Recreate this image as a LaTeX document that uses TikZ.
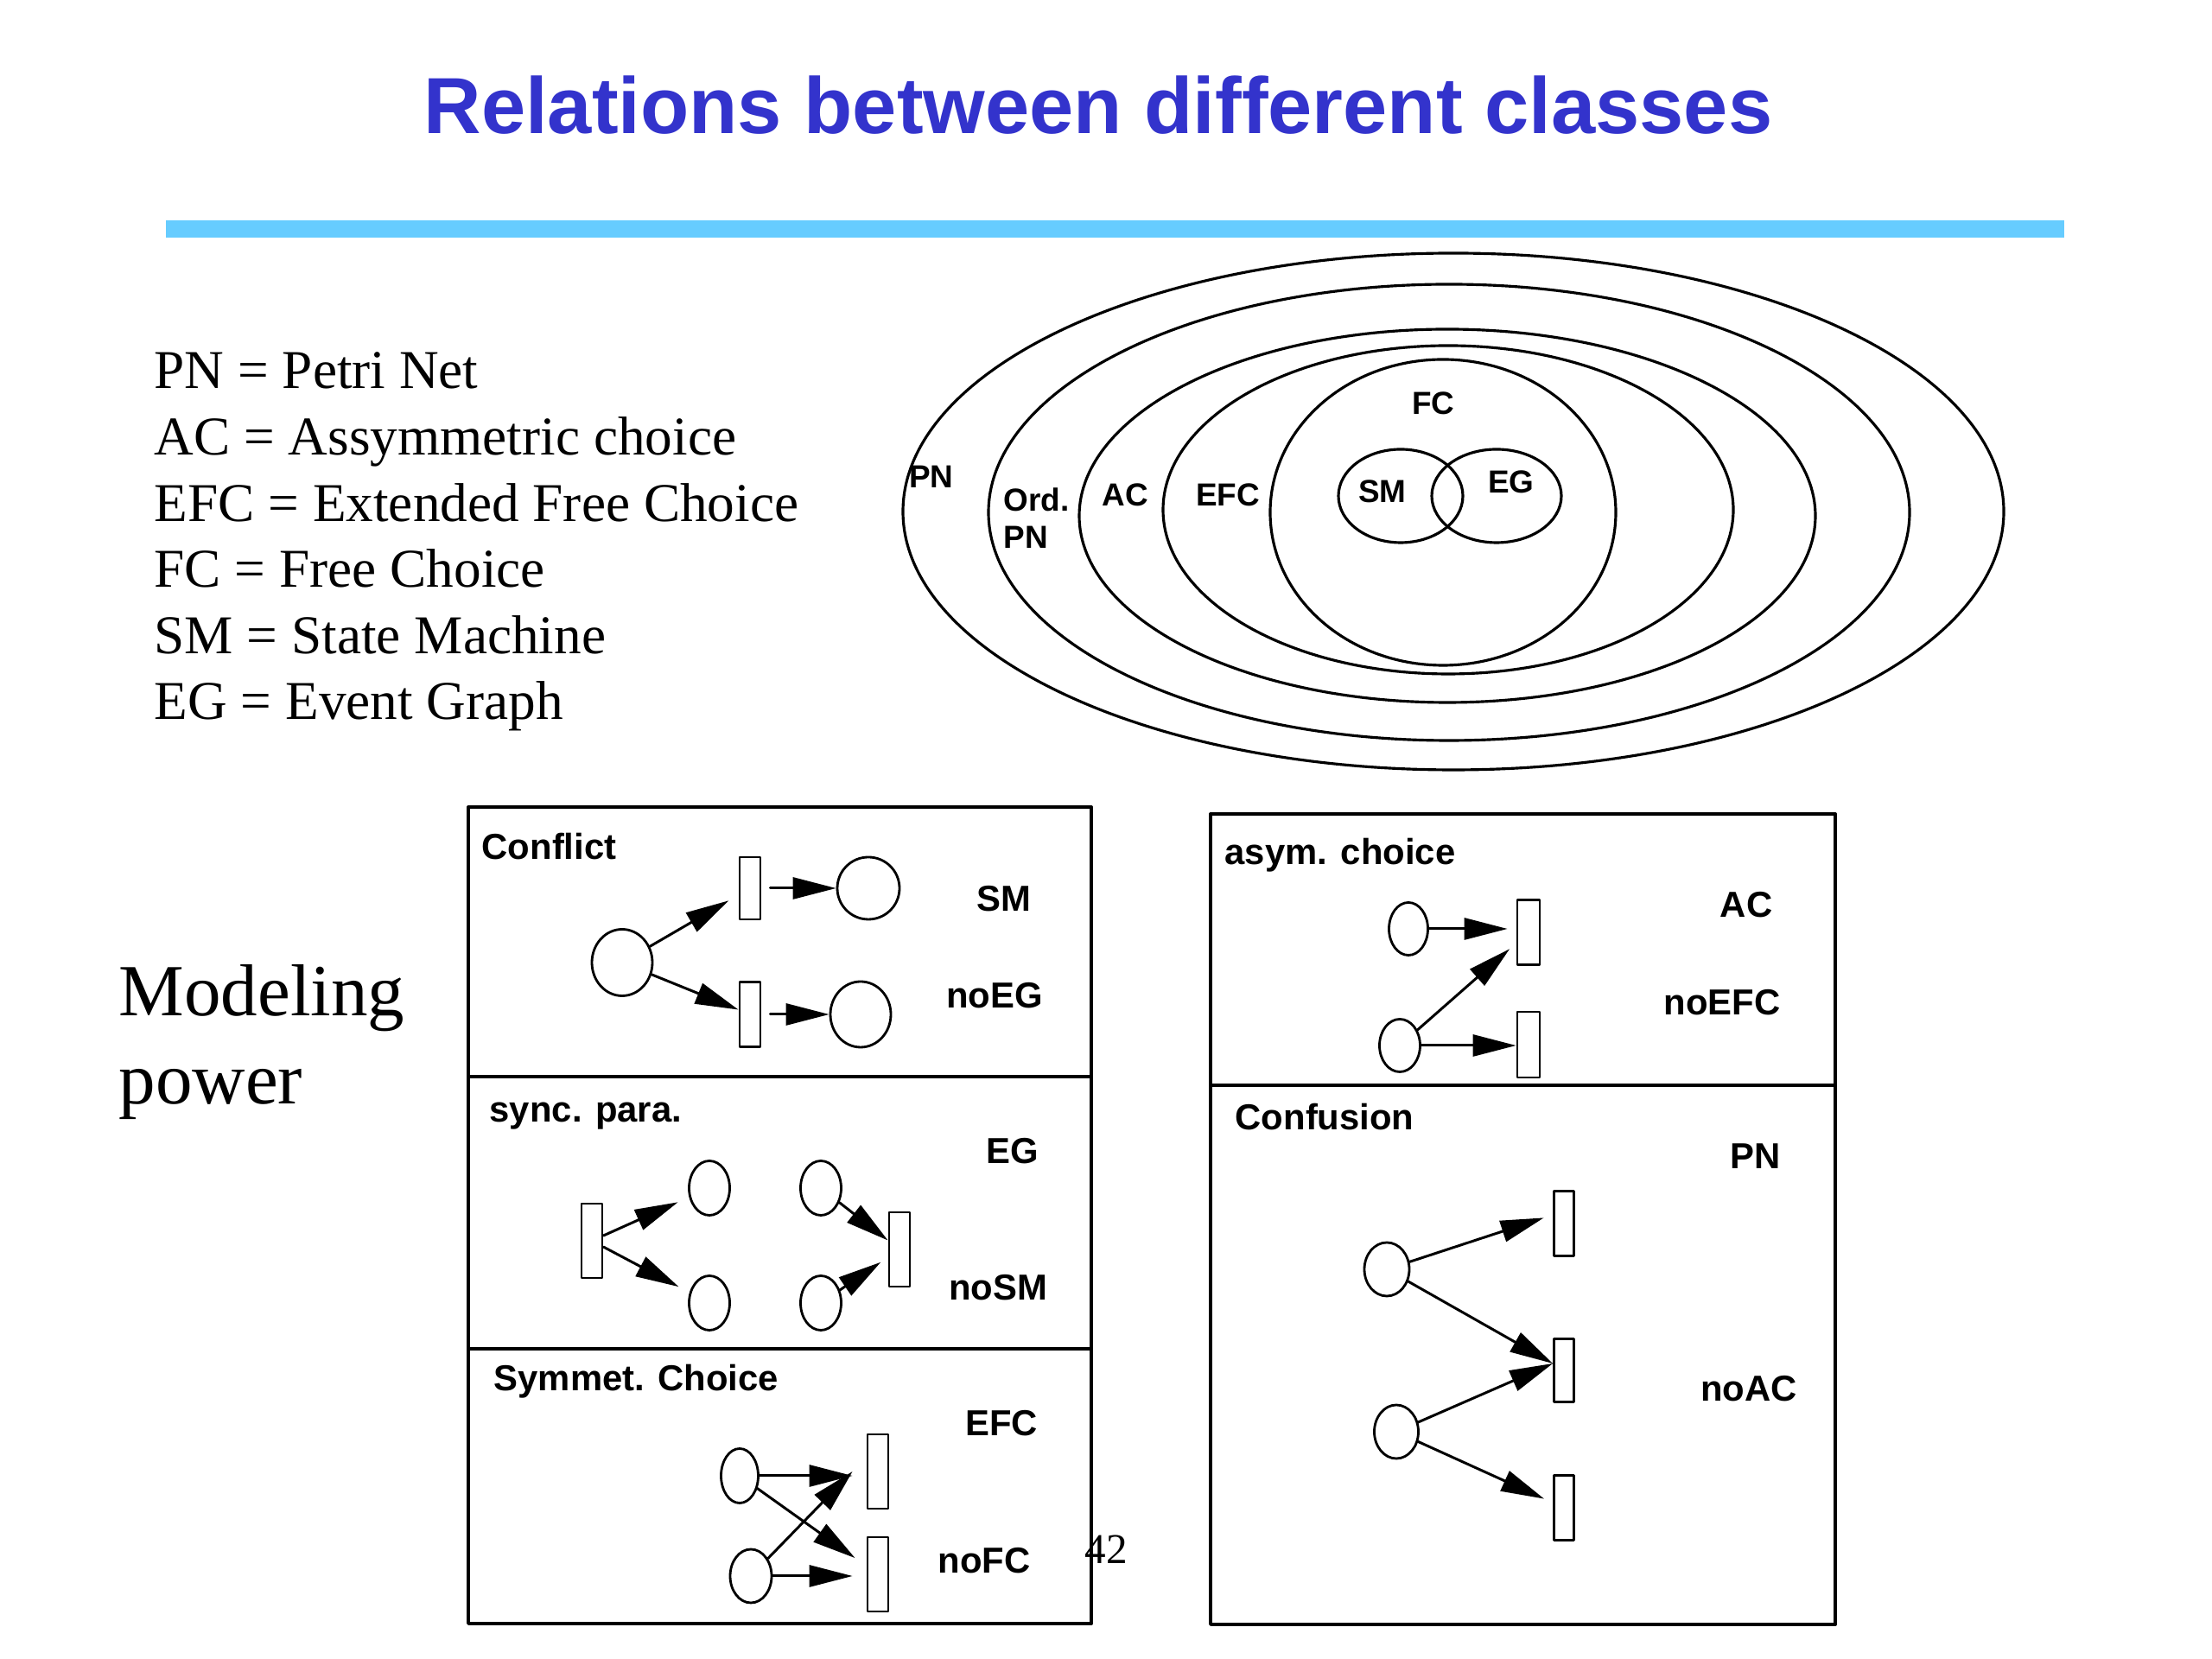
\documentclass[tikz,border=0pt]{standalone}
\usepackage{fontspec}
\setmainfont{Liberation Serif}
\setsansfont{Liberation Sans}
\usetikzlibrary{arrows.meta,shapes.geometric}
\definecolor{titleblue}{RGB}{51,51,204}
\definecolor{ruleblue}{RGB}{102,204,255}

\begin{document}
\begin{tikzpicture}[x=1cm, y=1cm, line cap=round, line join=round, >={Triangle[length=0.5cm, width=0.25cm]},
    place/.style={draw, ellipse, line width=0.8pt, inner sep=0pt, minimum width=0.47cm, minimum height=0.62cm},
    trans/.style={draw, rectangle, line width=0.8pt, inner sep=0pt, minimum width=0.24cm, minimum height=0.86cm},
    flow/.style={->, line width=0.85pt},
    venn/.style={line width=0.9pt},
    panel/.style={line width=1.1pt},
    tag/.style={font=\sffamily\bfseries\fontsize{11.9}{14}\selectfont, anchor=base west, inner sep=0pt},
    cls/.style={font=\sffamily\bfseries\fontsize{11.9}{14}\selectfont, inner sep=0pt},
    vlabel/.style={font=\sffamily\bfseries\fontsize{10.5}{12.2}\selectfont, inner sep=0pt}]
    \useasboundingbox (0,0) rectangle (25.6,19.2);
    \fill[white] (0,0) rectangle (25.6,19.2);

    % title and rule
    \node[font=\sffamily\bfseries\fontsize{26.2}{30}\selectfont, text=titleblue, anchor=base, inner sep=0pt] (title) at (12.71,17.65) {Relations between different classes};
    \draw[ruleblue, line width=0.2cm, line cap=butt] (1.92,16.55) -- (23.89,16.55);

    % legend
    \foreach \txt [count=\i] in {PN = Petri Net, AC = Assymmetric choice, EFC = Extended Free Choice, FC = Free Choice, SM = State Machine, EG = Event Graph}
      \node[font=\fontsize{18}{21}\selectfont, anchor=base west, inner sep=0pt] (leg\i) at (1.78, {14.70-(\i-1)*0.766}) {\txt};
    \node[font=\fontsize{24.2}{29}\selectfont, anchor=base west, inner sep=0pt] (model) at (1.37,7.44) {Modeling};
    \node[font=\fontsize{24.2}{29}\selectfont, anchor=base west, inner sep=0pt] (power) at (1.37,6.42) {power};

    % class inclusion
    \draw[venn] (16.82,13.28) ellipse [x radius=6.37, y radius=2.99];
    \draw[venn] (16.77,13.27) ellipse [x radius=5.33, y radius=2.64];
    \draw[venn] (16.75,13.23) ellipse [x radius=4.26, y radius=2.16];
    \draw[venn] (16.76,13.30) ellipse [x radius=3.30, y radius=1.90];
    \draw[venn] (16.70,13.27) ellipse [x radius=2.00, y radius=1.77];
    \draw[venn] (16.21,13.46) ellipse [x radius=0.72, y radius=0.54];
    \draw[venn] (17.32,13.46) ellipse [x radius=0.75, y radius=0.54];
    \node[vlabel] (lpn) at (10.78,13.68) {PN};
    \node[vlabel, align=left, anchor=west] (lord) at (11.61,13.20) {Ord.\\PN};
    \node[vlabel] (lac) at (13.02,13.47) {AC};
    \node[vlabel] (lefc) at (14.21,13.47) {EFC};
    \node[vlabel] (lfc) at (16.59,14.53) {FC};
    \node[vlabel] (lsm) at (16.00,13.51) {SM};
    \node[vlabel] (leg) at (17.49,13.62) {EG};

    % panels
    \draw[panel] (5.42,0.41) rectangle (12.63,9.86);
    \draw[panel] (5.42,6.74) -- (12.63,6.74);
    \draw[panel] (5.42,3.59) -- (12.63,3.59);
    \draw[panel] (14.01,0.40) rectangle (21.24,9.78);
    \draw[panel] (14.01,6.64) -- (21.24,6.64);
    \node[tag] (conflict) at (5.57,9.25) {Conflict};
    \node[tag] (sync) at (5.66,6.21) {sync. para.};
    \node[tag] (symm) at (5.71,3.10) {Symmet. Choice};
    \node[tag] (asym) at (14.17,9.19) {asym. choice};
    \node[tag] (confusion) at (14.29,6.12) {Confusion};
    \node[cls] (csm) at (11.62,8.80) {SM};
    \node[cls] (cnoeg) at (11.51,7.68) {noEG};
    \node[cls] (ceg) at (11.72,5.88) {EG};
    \node[cls] (cnosm) at (11.55,4.30) {noSM};
    \node[cls] (cefc) at (11.59,2.73) {EFC};
    \node[cls] (cnofc) at (11.39,1.14) {noFC};
    \node[cls] (cac) at (20.21,8.73) {AC};
    \node[cls] (cnoefc) at (19.93,7.60) {noEFC};
    \node[cls] (cpn) at (20.32,5.82) {PN};
    \node[cls] (cnoac) at (20.24,3.13) {noAC};

    % conflict
    \node[place, minimum width=0.70cm, minimum height=0.77cm] (p0) at (7.20,8.06) {};
    \node[trans, minimum height=0.72cm] (t1) at (8.68,8.92) {};
    \node[trans, minimum height=0.75cm] (t2) at (8.68,7.46) {};
    \node[place, minimum width=0.72cm, minimum height=0.72cm] (p1) at (10.05,8.92) {};
    \node[place, minimum width=0.70cm, minimum height=0.76cm] (p2) at (9.96,7.46) {};
    \draw[flow, shorten >=0.13cm] (p0) -- (t1);
    \draw[flow] (p0) -- (t2);
    \draw[flow, shorten <=0.1cm] (t1) -- (p1);
    \draw[flow, shorten <=0.1cm] (t2) -- (p2);

    % synchronisation
    \node[trans] (t3) at (6.85,4.84) {};
    \node[place, minimum height=0.63cm] (p3) at (8.21,5.45) {};
    \node[place, minimum height=0.63cm] (p4) at (8.21,4.12) {};
    \node[place, minimum height=0.63cm] (p5) at (9.50,5.45) {};
    \node[place, minimum height=0.63cm] (p6) at (9.50,4.12) {};
    \node[trans] (t4) at (10.41,4.74) {};
    \draw[flow, shorten >=0.14cm] (t3) -- (p3);
    \draw[flow, shorten >=0.14cm] (t3) -- (p4);
    \draw[flow] (p5) -- (t4);
    \draw[flow, shorten >=0.1cm] (p6) -- (t4);

    % symmetric choice
    \node[place, minimum width=0.43cm, minimum height=0.63cm] (p7) at (8.56,2.12) {};
    \node[place, minimum width=0.48cm] (p8) at (8.69,0.96) {};
    \node[trans] (t5) at (10.16,2.17) {};
    \node[trans] (t6) at (10.16,0.98) {};
    \draw[flow, shorten >=0.16cm] (p7) -- (p7 -| t5.west);
    \draw[flow, shorten >=0.16cm] (p7) -- (t6);
    \draw[flow] (p8) -- ([xshift=-0.16cm]t5.west);
    \draw[flow, shorten >=0.16cm] (p8) -- (p8 -| t6.west);

    % asymmetric choice
    \node[place, minimum width=0.45cm, minimum height=0.61cm] (p9) at (16.30,8.45) {};
    \node[place, minimum height=0.61cm] (p10) at (16.20,7.10) {};
    \node[trans, minimum width=0.26cm, minimum height=0.75cm] (t7) at (17.69,8.41) {};
    \node[trans, minimum width=0.26cm, minimum height=0.76cm] (t8) at (17.69,7.11) {};
    \draw[flow, shorten >=0.1cm] (p9) -- (p9 -| t7.west);
    \draw[flow, shorten >=0.1cm] (p10) -- (t7);
    \draw[flow] (p10) -- (p10 -| t8.west);

    % confusion
    \node[place, minimum width=0.52cm] (p11) at (16.05,4.51) {};
    \node[place, minimum width=0.51cm] (p12) at (16.16,2.63) {};
    \node[trans, minimum width=0.23cm, minimum height=0.75cm] (t9) at (18.10,5.04) {};
    \node[trans, minimum width=0.23cm, minimum height=0.73cm] (t10) at (18.10,3.34) {};
    \node[trans, minimum width=0.23cm, minimum height=0.75cm] (t11) at (18.10,1.75) {};
    \draw[flow, shorten >=0.11cm] (p11) -- ([yshift=0.1cm]t9.west);
    \draw[flow] (p11) -- ([yshift=0.08cm]t10.west);
    \draw[flow] (p12) -- ([yshift=0.08cm]t10.west);
    \draw[flow, shorten >=0.11cm] (p12) -- (t11);

    \node[font=\fontsize{14}{17}\selectfont, anchor=base west, inner sep=0pt] (page) at (12.55,1.10) {42};
\end{tikzpicture}
\end{document}
